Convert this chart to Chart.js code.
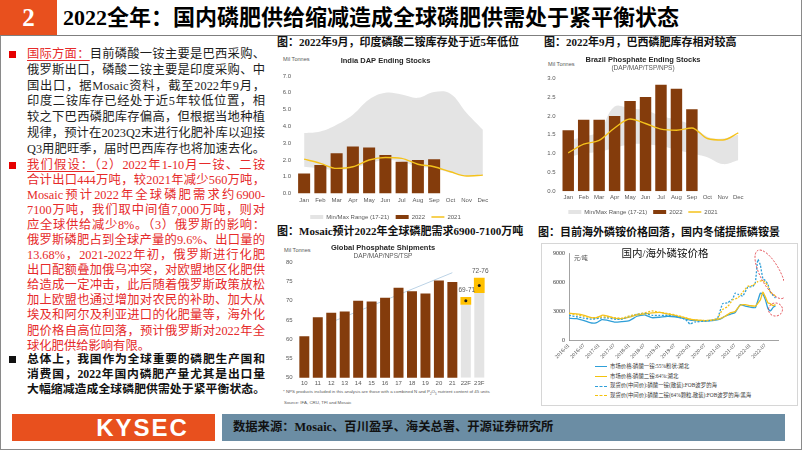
<!DOCTYPE html>
<html lang="zh-CN">
<head>
<meta charset="utf-8">
<title>2022全年磷肥供需</title>
<script src="https://cdn.jsdelivr.net/npm/chart.js@4.4.1/dist/chart.umd.min.js"></script>
<style>
  html, body { margin: 0; padding: 0; background: #fff; }
  body { width: 802px; height: 452px; position: relative; overflow: hidden;
         font-family: "Liberation Serif", "Noto Sans CJK SC", serif; color: #1a1a1a; }
  .abs { position: absolute; }
  #frame { left: 0; top: 0; width: 800px; height: 449px; border: 1px solid #8a8a8a; border-top: none; box-sizing: content-box; }
  #num { left: 0; top: 0; width: 57px; height: 35px; background: #e8501e; color: #fff;
         font-weight: bold; font-size: 25px; line-height: 35px; text-align: center; }
  #title { left: 63px; top: 0; height: 35px; line-height: 35px; font-size: 22px; font-weight: bold; color: #000; white-space: nowrap; }
  #rule { left: 0; top: 35px; width: 802px; height: 1px; background: #7f7f7f; }

  .para { position: absolute; left: 27px; width: 238px; font-size: 12.3px; }
  .para div { text-align: justify; text-align-last: justify; }
  .para div.end { text-align-last: left; }
  .bullet { position: absolute; left: 9px; width: 7px; height: 7px; }
  #p1 { top: 47px; line-height: 15.8px; color: #1e1e1e; }
  #p2 { top: 158px; line-height: 15.05px; color: #e62a2a; }
  #p3 { top: 352px; line-height: 15px; color: #111; font-weight: bold; font-size: 11.8px; }
  u { text-underline-offset: 2px; }
  .red { color: #e62a2a; }

  .cap { position: absolute; font-size: 11px; font-weight: bold; color: #111; white-space: nowrap; line-height: 14px; }
  .unit { position: absolute; font-family: "Liberation Sans", Arial, sans-serif; font-size: 5.6px; color: #595959; white-space: nowrap; }
  .note { position: absolute; font-family: "Liberation Sans", Arial, sans-serif; font-size: 4.4px; color: #595959; white-space: nowrap; }
  canvas { position: absolute; }

  #priceBox { left: 541px; top: 243px; width: 255px; height: 161px; border: 1px solid #d6d6d6; }
  #priceTitle { left: 610px; top: 247px; width: 110px; text-align: center; font-size: 10.5px; color: #111; white-space: nowrap; line-height: 14px; }
  #priceUnit { left: 574px; top: 253px; font-size: 6px; color: #444; white-space: nowrap; }
  #priceLegend { left: 595px; top: 362px; font-size: 5.4px; color: #333; line-height: 9.7px; white-space: nowrap; }
  #priceLegend .s { display: inline-block; width: 12px; height: 0; vertical-align: middle; margin-right: 3px; border-top-width: 1.4px; }

  #logo { left: 12px; top: 414px; width: 203px; height: 27px; background: #e8501e; }
  #logo span { position: absolute; left: 78px; width: 105px; text-align: center; top: 0; line-height: 27px;
               font-family: "Liberation Sans", Arial, sans-serif; font-weight: bold; font-size: 24px; color: #fff; letter-spacing: 2px; }
  #src { left: 222px; top: 414px; width: 563px; height: 27px; background: #6b8da4; }
  #src span { position: absolute; left: 11px; top: 0; line-height: 27px; font-size: 12.3px; font-weight: bold; color: #111; white-space: nowrap; }
</style>
</head>
<body>
<div id="frame" class="abs"></div>
<div id="num" class="abs">2</div>
<div id="title" class="abs">2022全年：国内磷肥供给缩减造成全球磷肥供需处于紧平衡状态</div>
<div id="rule" class="abs"></div>

<div class="bullet" style="top:51px;background:#e60000"></div>
<div id="p1" class="para">
  <div><u class="red">国际方面：</u>目前磷酸一铵主要是巴西采购、</div>
  <div>俄罗斯出口，磷酸二铵主要是印度采购、中</div>
  <div>国出口，据Mosaic资料，截至2022年9月，</div>
  <div>印度二铵库存已经处于近5年较低位置，相</div>
  <div>较之下巴西磷肥库存偏高，但根据当地种植</div>
  <div>规律，预计在2023Q2末进行化肥补库以迎接</div>
  <div>Q3用肥旺季，届时巴西库存也将加速去化。</div>
</div>

<div class="bullet" style="top:162px;background:#e60000"></div>
<div id="p2" class="para">
  <div><u>我们假设：</u>（2）2022年1-10月一铵、二铵</div>
  <div>合计出口444万吨，较2021年减少560万吨，</div>
  <div>Mosaic预计2022年全球磷肥需求约6900-</div>
  <div>7100万吨，我们取中间值7,000万吨，则对</div>
  <div>应全球供给减少8%。（3）俄罗斯的影响：</div>
  <div>俄罗斯磷肥占到全球产量的9.6%、出口量的</div>
  <div>13.68%，2021-2022年初，俄罗斯进行化肥</div>
  <div>出口配额叠加俄乌冲突，对欧盟地区化肥供</div>
  <div>给造成一定冲击，此后随着俄罗斯政策放松</div>
  <div>加上欧盟也通过增加对农民的补助、加大从</div>
  <div>埃及和阿尔及利亚进口的化肥量等，海外化</div>
  <div>肥价格自高位回落，预计俄罗斯对2022年全</div>
  <div class="end">球化肥供给影响有限。</div>
</div>

<div class="bullet" style="top:356px;background:#111"></div>
<div id="p3" class="para">
  <div>总体上，我国作为全球重要的磷肥生产国和</div>
  <div>消费国，2022年国内磷肥产量尤其是出口量</div>
  <div>大幅缩减造成全球磷肥供需处于紧平衡状态。</div>
</div>

<div class="cap" style="left:277px;top:35px">图：2022年9月，印度磷酸二铵库存处于近5年低位</div>
<div class="cap" style="left:544px;top:35px">图：2022年9月，巴西磷肥库存相对较高</div>
<div class="cap" style="left:277px;top:224px">图：Mosaic预计2022年全球磷肥需求6900-7100万吨</div>
<div class="cap" style="left:538px;top:225px">图：目前海外磷铵价格回落，国内冬储提振磷铵景</div>

<div class="unit" style="left:283px;top:56px">Mil Tonnes</div>
<div class="unit" style="left:548px;top:61px">Mil Tonnes</div>
<div class="unit" style="left:284px;top:247px">Mil Tonnes</div>

<canvas id="indiaChart" width="217" height="180" style="left:280px;top:50px"></canvas>
<canvas id="brazilChart" width="212" height="175" style="left:540px;top:50px"></canvas>
<canvas id="shipChart" width="212" height="151" style="left:280px;top:238px"></canvas>
<div class="note" style="left:283px;top:389px">* NPS products included in this analysis are those with a combined N and P<sub style="font-size:3px">2</sub>O<sub style="font-size:3px">5</sub> nutrient content of 45 units</div>
<div class="note" style="left:284px;top:400px">Source: IFA, CRU, TFI and Mosaic</div>

<div id="priceBox" class="abs"></div>
<canvas id="priceChart" width="239" height="116" style="left:545px;top:246px"></canvas>
<div id="priceTitle" class="abs">国内/海外磷铵价格</div>
<div id="priceUnit" class="abs">元/吨</div>
<div id="priceLegend" class="abs">
  <div><span class="s" style="border-top-style:solid;border-top-color:#2f9fd8"></span>市场价格:磷酸一铵:55%粉状:湖北</div>
  <div><span class="s" style="border-top-style:solid;border-top-color:#f4c20d"></span>市场价格:磷酸二铵:64%:湖北</div>
  <div><span class="s" style="border-top-style:dashed;border-top-color:#2f9fd8"></span>现货价(中间价):磷酸一铵(散装):FOB波罗的海</div>
  <div><span class="s" style="border-top-style:dashed;border-top-color:#f4c20d"></span>现货价(中间价):磷酸二铵(64%颗粒,散装):FOB波罗的海/黑海</div>
</div>

<div id="logo" class="abs"><span>KYSEC</span></div>
<div id="src" class="abs"><span>数据来源：Mosaic、百川盈孚、海关总署、开源证券研究所</span></div>

<script>
// India DAP ending stocks, Mil Tonnes
const months = ['Jan', 'Feb', 'Mar', 'Apr', 'May', 'Jun', 'Jul', 'Aug', 'Sep', 'Oct', 'Nov', 'Dec'];
const indiaRangeMax = [3.6, 3.7, 4.1, 4.7, 5.6, 6.0, 5.9, 5.7, 6.05, 5.95, 4.8, 3.8];
const indiaRangeMin = [1.6, 1.5, 1.4, 1.5, 1.8, 2.0, 1.9, 1.6, 1.5, 1.25, 1.05, 1.1];
const india2022 = [1.2, 1.7, 2.4, 2.8, 2.75, 2.3, 1.9, 2.0, 2.05, null, null, null];
const india2021 = [2.05, 1.8, 1.5, 1.6, 2.0, 2.15, 2.1, 1.75, 1.6, 1.3, 1.05, 1.1];

// Brazil phosphate ending stocks, Mil Tonnes
const brazilRangeMax = [1.35, 1.45, 1.6, 2.25, 2.2, 2.15, 2.0, 1.9, 1.75, 1.45, 1.4, 1.5];
const brazilRangeMin = [0.9, 1.0, 1.05, 1.15, 1.25, 1.25, 1.2, 1.1, 1.0, 0.9, 0.72, 0.82];
const brazil2022 = [1.62, 1.9, 1.9, 2.0, 2.4, 2.5, 2.83, 2.72, 2.18, null, null, null];
const brazil2021 = [1.02, 1.25, 1.35, 1.68, 1.92, 1.8, 1.65, 1.62, 1.68, 1.4, 1.36, 1.55];

// Global phosphate shipments, Mil Tonnes
const shipYears = ['10', '11', '12', '13', '14', '15', '16', '17', '18', '19', '20', '21', '22F', '23F'];
const shipActual = [60.8, 65.7, 66.9, 67.2, 70.0, 69.8, 70.8, 73.4, 72.5, 71.9, 75.3, 74.9, null, null];
const shipForecastLow = [null, null, null, null, null, null, null, null, null, null, null, null, 69, 72];
const shipForecastHigh = [null, null, null, null, null, null, null, null, null, null, null, null, 71, 76];
const shipForecastMid = [null, null, null, null, null, null, null, null, null, null, null, null, 70, 74];
const shipTrend = [{ x: 0, y: 63.9 }, { x: 12.5, y: 77.3 }];

// Domestic / overseas ammonium phosphate prices, 元/吨
const priceTickLabels = ['2016-01', '2016-07', '2017-01', '2017-07', '2018-01', '2018-07', '2019-01',
  '2019-07', '2020-01', '2020-07', '2021-01', '2021-07', '2022-01', '2022-07'];
const mapHubei = [['2016-01', 2300], ['2016-04', 2250], ['2016-07', 2050], ['2016-10', 1800], ['2016-12', 1850],
  ['2017-02', 2150], ['2017-04', 2100], ['2017-07', 1900], ['2017-10', 1950], ['2018-01', 2050], ['2018-04', 2500],
  ['2018-07', 2650], ['2018-10', 2350], ['2019-01', 2400], ['2019-04', 2500], ['2019-07', 2450], ['2019-10', 2300],
  ['2020-01', 2100], ['2020-04', 2050], ['2020-07', 2000], ['2020-10', 2050], ['2021-01', 2200], ['2021-03', 2500],
  ['2021-05', 2700], ['2021-07', 2900], ['2021-09', 3700], ['2021-11', 3550], ['2022-01', 3450], ['2022-03', 3400],
  ['2022-05', 4900], ['2022-06', 4800], ['2022-07', 4200], ['2022-08', 3300], ['2022-09', 3050], ['2022-10', 3400],
  ['2022-11', 3600]];
const dapHubei = [['2016-01', 2800], ['2016-04', 2750], ['2016-07', 2600], ['2016-10', 2350], ['2016-12', 2350],
  ['2017-02', 2600], ['2017-04', 2550], ['2017-07', 2300], ['2017-10', 2250], ['2018-01', 2400], ['2018-04', 2650],
  ['2018-07', 2750], ['2018-10', 2850], ['2019-01', 2900], ['2019-04', 2750], ['2019-07', 2600], ['2019-10', 2400],
  ['2020-01', 2200], ['2020-04', 2100], ['2020-07', 2050], ['2020-10', 2100], ['2021-01', 2250], ['2021-03', 2500],
  ['2021-05', 2850], ['2021-07', 3000], ['2021-09', 3650], ['2021-11', 3700], ['2022-01', 3600], ['2022-03', 3550],
  ['2022-05', 4200], ['2022-06', 5000], ['2022-07', 4500], ['2022-08', 3900], ['2022-09', 3800], ['2022-10', 3600],
  ['2022-11', 3700]];
const mapBaltic = [['2016-01', 2600], ['2016-04', 2450], ['2016-07', 2300], ['2016-10', 2200], ['2017-01', 2300],
  ['2017-04', 2350], ['2017-07', 2200], ['2017-10', 2200], ['2018-01', 2500], ['2018-04', 2700], ['2018-07', 2800],
  ['2018-10', 2600], ['2019-01', 2600], ['2019-04', 2600], ['2019-07', 2500], ['2019-10', 2300], ['2019-12', 2000],
  ['2020-01', 1700], ['2020-03', 1900], ['2020-07', 2000], ['2020-10', 2100], ['2020-12', 2300], ['2021-02', 3800],
  ['2021-04', 3900], ['2021-06', 4300], ['2021-07', 4900], ['2021-08', 4800], ['2021-10', 4600], ['2021-12', 5500],
  ['2022-02', 5600], ['2022-03', 6000], ['2022-04', 8400], ['2022-05', 7800], ['2022-06', 6400], ['2022-07', 6200],
  ['2022-08', 5800], ['2022-09', 5000], ['2022-11', 4400]];
const dapBaltic = [['2016-01', 2800], ['2016-04', 2650], ['2016-07', 2500], ['2016-10', 2350], ['2017-01', 2400],
  ['2017-04', 2450], ['2017-07', 2350], ['2017-10', 2300], ['2018-01', 2550], ['2018-04', 2700], ['2018-07', 2850],
  ['2018-10', 3050], ['2019-01', 2900], ['2019-04', 2800], ['2019-07', 2650], ['2019-10', 2450], ['2020-01', 2200],
  ['2020-04', 2100], ['2020-07', 2050], ['2020-10', 2100], ['2020-12', 2300], ['2021-02', 3200], ['2021-04', 3500],
  ['2021-06', 4200], ['2021-08', 4400], ['2021-10', 5000], ['2021-12', 5600], ['2022-02', 5700], ['2022-04', 6100],
  ['2022-06', 6200], ['2022-07', 6000], ['2022-08', 5600], ['2022-09', 5000], ['2022-11', 4600]];

Chart.defaults.font.family = '"Liberation Sans", Arial, sans-serif';
Chart.defaults.color = '#595959';
Chart.defaults.animation = false;

const BROWN = '#843c0c';
const GREY = '#e4e4e4';
const GOLD = '#f5c21b';
const SERIF = '"Liberation Serif", "Noto Sans CJK SC", serif';

// months since 2016-01
function monthIndex(s) {
  return (parseInt(s.slice(0, 4), 10) - 2016) * 12 + parseInt(s.slice(5, 7), 10) - 1;
}

function noGrid(extra) {
  return Object.assign({ grid: { display: false, drawTicks: false }, border: { display: false } }, extra);
}

/**
 * Shared look of the two monthly stock charts
 */
function stockChart(id, opts) {
  return new Chart(document.getElementById(id), {
    type: 'bar',
    data: {
      labels: months,
      datasets: [
        { type: 'line', label: 'Min/Max Range (17-21)', data: opts.max, fill: '+1', backgroundColor: GREY,
          borderColor: 'rgba(0,0,0,0)', borderWidth: 0, pointRadius: 0, tension: 0.4, order: 3, pointStyle: 'rect' },
        { type: 'line', label: '', data: opts.min, fill: false, borderColor: 'rgba(0,0,0,0)', borderWidth: 0,
          pointRadius: 0, tension: 0.4, order: 3 },
        { type: 'bar', label: '2022', data: opts.y2022, backgroundColor: BROWN, barPercentage: 0.74,
          categoryPercentage: 1, order: 2, pointStyle: 'rect' },
        { type: 'line', label: '2021', data: opts.y2021, borderColor: GOLD, backgroundColor: GOLD, borderWidth: 1.4,
          pointRadius: 0, tension: 0.4, cubicInterpolationMode: 'monotone', order: 1, pointStyle: 'line' }
      ]
    },
    options: {
      responsive: false,
      devicePixelRatio: 1,
      layout: { padding: { right: opts.padRight } },
      plugins: {
        title: { display: true, text: opts.title, color: '#262626', font: { size: 7.5, weight: 'bold' },
                 padding: opts.titlePad },
        subtitle: { display: !!opts.subtitle, text: opts.subtitle, color: '#595959', font: { size: 6.5 },
                    padding: { top: 0, bottom: 6 } },
        legend: {
          position: 'bottom',
          labels: { usePointStyle: true, pointStyleWidth: 13, boxHeight: 4, boxWidth: 13, padding: opts.legendPad,
                    font: { size: 6 }, color: '#595959',
                    filter: item => item.datasetIndex !== 1,
                    sort: (a, b) => a.datasetIndex - b.datasetIndex }
        },
        tooltip: { enabled: false }
      },
      scales: {
        x: noGrid({ ticks: { font: { size: 6 }, padding: opts.xPad, autoSkip: false, maxRotation: 0, minRotation: 0 } }),
        y: noGrid({
          min: 0, max: opts.yMax,
          ticks: { stepSize: opts.yStep, font: { size: 6 }, padding: 5, callback: v => v.toFixed(1) },
          afterFit: s => { s.width = opts.yWidth; }
        })
      }
    }
  });
}

stockChart('indiaChart', {
  title: 'India DAP Ending Stocks', max: indiaRangeMax, min: indiaRangeMin, y2022: india2022, y2021: india2021,
  yMax: 7, yStep: 1, yWidth: 16, padRight: 6, xPad: 3.4, legendPad: 6.4, titlePad: { top: 6, bottom: 11 }
});

stockChart('brazilChart', {
  title: 'Brazil Phosphate Ending Stocks', subtitle: '(DAP/MAP/TSP/NPS)',
  max: brazilRangeMax, min: brazilRangeMin, y2022: brazil2022, y2021: brazil2021,
  yMax: 3, yStep: 0.5, yWidth: 20.5, padRight: 6, xPad: 2.4, legendPad: 5.8, titlePad: { top: 5.5, bottom: 0 }
});

// "69-71" / "72-76" labels above the forecast boxes
const rangeLabels = {
  id: 'rangeLabels',
  afterDatasetsDraw(chart) {
    const { ctx, scales: { x, y } } = chart;
    ctx.save();
    ctx.font = '6.5px "Liberation Sans", Arial, sans-serif';
    ctx.fillStyle = '#595959';
    ctx.textAlign = 'center';
    ctx.textBaseline = 'bottom';
    shipForecastHigh.forEach((hi, i) => {
      if (hi === null) return;
      ctx.fillText(`${shipForecastLow[i]}-${hi}`, x.getPixelForValue(i) + 1, y.getPixelForValue(hi) - 3);
    });
    ctx.restore();
  }
};

new Chart(document.getElementById('shipChart'), {
  type: 'bar',
  data: {
    labels: shipYears,
    datasets: [
      { type: 'line', xAxisID: 'xt', data: shipTrend, borderColor: '#bcd3e6', borderWidth: 1, pointRadius: 0, order: 5 },
      { type: 'bar', data: shipActual, backgroundColor: BROWN, grouped: false, barPercentage: 0.74, categoryPercentage: 1, order: 3 },
      { type: 'bar', data: shipForecastLow.map(v => (v === null ? null : [50, v])), backgroundColor: GREY,
        grouped: false, barPercentage: 0.74, categoryPercentage: 1, order: 3 },
      { type: 'bar', data: shipForecastLow.map((v, i) => (v === null ? null : [v, shipForecastHigh[i]])),
        backgroundColor: '#ffc000', grouped: false, barPercentage: 0.8, categoryPercentage: 1, order: 2 },
      { type: 'line', data: shipForecastMid, showLine: false, pointRadius: 1.5, pointBackgroundColor: '#1a1a1a',
        pointBorderWidth: 0, order: 1 }
    ]
  },
  options: {
    responsive: false,
    devicePixelRatio: 1,
    layout: { padding: { right: 6 } },
    plugins: {
      title: { display: true, text: 'Global Phosphate Shipments', color: '#262626', font: { size: 7.5, weight: 'bold' },
               padding: { top: 5.5, bottom: 0 } },
      subtitle: { display: true, text: 'DAP/MAP/NPS/TSP', color: '#595959', font: { size: 6.5 }, padding: { top: 0, bottom: 2 } },
      legend: { display: false },
      tooltip: { enabled: false }
    },
    scales: {
      x: noGrid({ ticks: { font: { size: 6 }, padding: 2, autoSkip: false, maxRotation: 0, minRotation: 0 } }),
      xt: { type: 'linear', min: -0.5, max: 13.5, display: false },
      y: noGrid({
        min: 50, max: 80,
        ticks: { stepSize: 5, font: { size: 6 }, padding: 5 },
        afterFit: s => { s.width = 17.6; }
      })
    }
  },
  plugins: [rangeLabels]
});

// red dashed rings drawn around the 2022 moves
const ellipseMarks = {
  id: 'ellipseMarks',
  afterDatasetsDraw(chart, args, opts) {
    const { ctx, scales: { x, y } } = chart;
    ctx.save();
    ctx.strokeStyle = '#e0353d';
    ctx.lineWidth = 0.9;
    ctx.setLineDash([2, 1.5]);
    opts.marks.forEach(m => {
      ctx.beginPath();
      ctx.ellipse(x.getPixelForValue(monthIndex(m.at)), y.getPixelForValue(m.value), m.rx, m.ry,
        m.angle * Math.PI / 180, 0, 2 * Math.PI);
      ctx.stroke();
    });
    ctx.restore();
  }
};

function priceLine(series, color, dashed) {
  return {
    data: series.map(([d, v]) => ({ x: monthIndex(d), y: v })),
    borderColor: color,
    borderWidth: 1.3,
    borderDash: dashed ? [2, 1.5] : [],
    pointRadius: 0,
    tension: 0.15
  };
}

new Chart(document.getElementById('priceChart'), {
  type: 'line',
  data: {
    datasets: [
      priceLine(dapBaltic, GOLD, true),
      priceLine(mapBaltic, '#2f9fd8', true),
      priceLine(dapHubei, GOLD, false),
      priceLine(mapHubei, '#2f9fd8', false)
    ]
  },
  options: {
    responsive: false,
    devicePixelRatio: 1,
    layout: { padding: { top: 7, right: 6 } },
    plugins: {
      legend: { display: false },
      tooltip: { enabled: false },
      ellipseMarks: {
        marks: [
          { at: '2022-09', value: 6850, rx: 27, ry: 10, angle: 62 },
          { at: '2022-11', value: 3200, rx: 7, ry: 6.5, angle: 0 }
        ]
      }
    },
    scales: {
      x: {
        type: 'linear', min: 0, max: 83,
        grid: { display: false, drawTicks: false },
        border: { display: true, color: '#8c8c8c', width: 0.8 },
        afterBuildTicks: s => { s.ticks = priceTickLabels.map(l => ({ value: monthIndex(l) })); },
        ticks: {
          autoSkip: false, maxRotation: 45, minRotation: 45, padding: 2, color: '#333',
          font: { family: SERIF, size: 5.5 },
          callback: v => priceTickLabels.find(l => monthIndex(l) === v) || ''
        }
      },
      y: {
        min: 0, max: 9000,
        grid: { display: false, drawTicks: false },
        border: { display: true, color: '#8c8c8c', width: 0.8 },
        ticks: { stepSize: 3000, padding: 4, color: '#333', font: { family: SERIF, size: 6 }, callback: v => String(v) },
        afterFit: s => { s.width = 24; }
      }
    }
  },
  plugins: [ellipseMarks]
});
</script>
</body>
</html>
